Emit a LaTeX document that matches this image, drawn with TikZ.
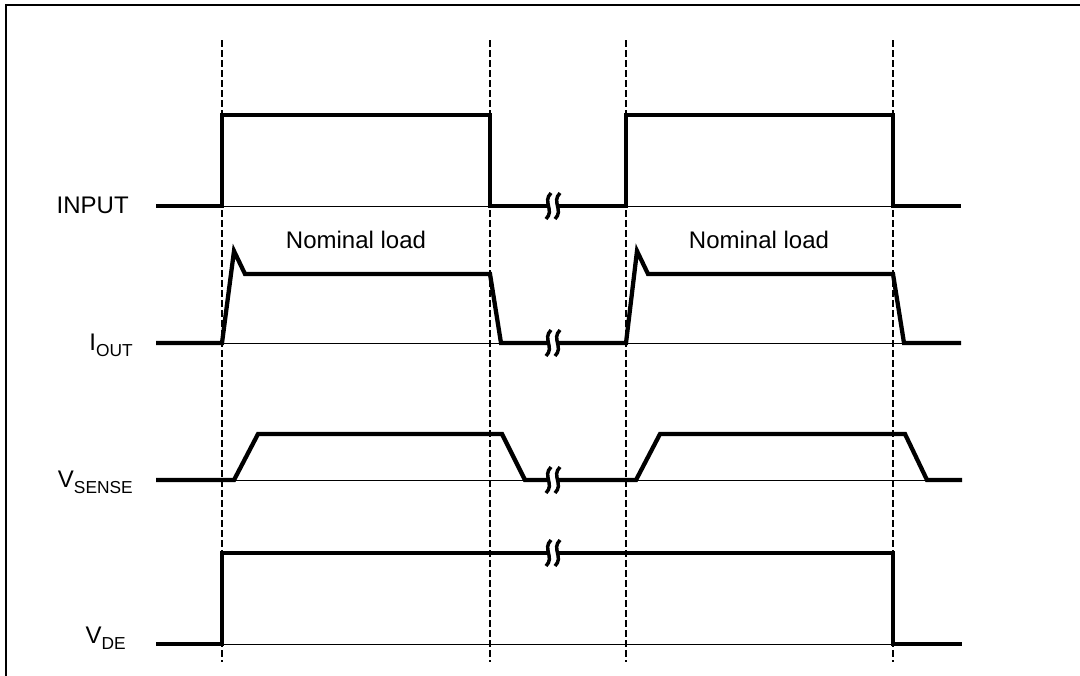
\documentclass[tikz,border=0pt]{standalone}
\usepackage{fontspec}
\setmainfont{Liberation Sans}
\newcommand\subtxt[1]{\raisebox{-0.28em}{\fontsize{13}{14}\selectfont #1}}
\begin{document}
\begin{tikzpicture}[x=0.75pt,y=-0.75pt,
  sig/.style={line width=3.2pt, line join=miter},
  base/.style={line width=0.6pt},
  guide/.style={line width=1.2pt, dash pattern=on 5pt off 2.5pt},
  frame/.style={line width=1.6pt},
  lab/.style={anchor=base east, inner sep=0pt, font=\fontsize{18}{20}\selectfont},
  note/.style={anchor=base, inner sep=0pt, font=\fontsize{18}{20}\selectfont},
  brk/.pic={
    \fill[white] (-6,-4) rectangle (6,4);
    \draw[line width=2.6pt] (-2,-13) .. controls (-11,-4) and (2,4) .. (-7,13);
    \draw[line width=2.6pt] (7,-13) .. controls (-2,-4) and (11,4) .. (2,13);
  }]
\useasboundingbox (0,0) rectangle (1080,675);
% frame (only top and left edges visible)
\draw[frame] (6,680) -- (6,5) -- (1085,5);
% guides
\foreach \x in {222,490,626,893} \draw[guide] (\x,40) -- (\x,662);
% baselines
\foreach \y in {206,343,480,644} \draw[base] (156,\y) -- (961,\y);
% INPUT
\draw[sig] (156,206) -- (222,206) -- (222,115) -- (490,115) -- (490,206) -- (547,206);
\draw[sig] (559,206) -- (626,206) -- (626,115) -- (893,115) -- (893,206) -- (961,206);
% IOUT
\draw[sig] (156,343) -- (222,343) -- (234,251) -- (245,274) -- (490,274) -- (501,343) -- (547,343);
\draw[sig] (559,343) -- (626,343) -- (637,251) -- (648,274) -- (893,274) -- (904,343) -- (961,343);
% VSENSE
\draw[sig] (156,480) -- (234,480) -- (258,434) -- (502,434) -- (525,480) -- (547,480);
\draw[sig] (559,480) -- (636,480) -- (660,434) -- (905,434) -- (927,480) -- (962,480);
% VDE
\draw[sig] (156,644) -- (222,644) -- (222,553) -- (547,553);
\draw[sig] (559,553) -- (893,553) -- (893,644) -- (962,644);
% breaks
\foreach \y in {206,343,480,553} \pic at (553,\y) {brk};
% labels
\node[lab] (input) at (129,213) {INPUT};
\node[lab] (iout) at (133,350) {I\subtxt{OUT}};
\node[lab] (vsense) at (133,487) {V\subtxt{SENSE}};
\node[lab] (vde) at (126,643) {V\subtxt{DE}};
\node[note] (nl1) at (356,248) {Nominal load};
\node[note] (nl2) at (759,248) {Nominal load};
\end{tikzpicture}
\end{document}
